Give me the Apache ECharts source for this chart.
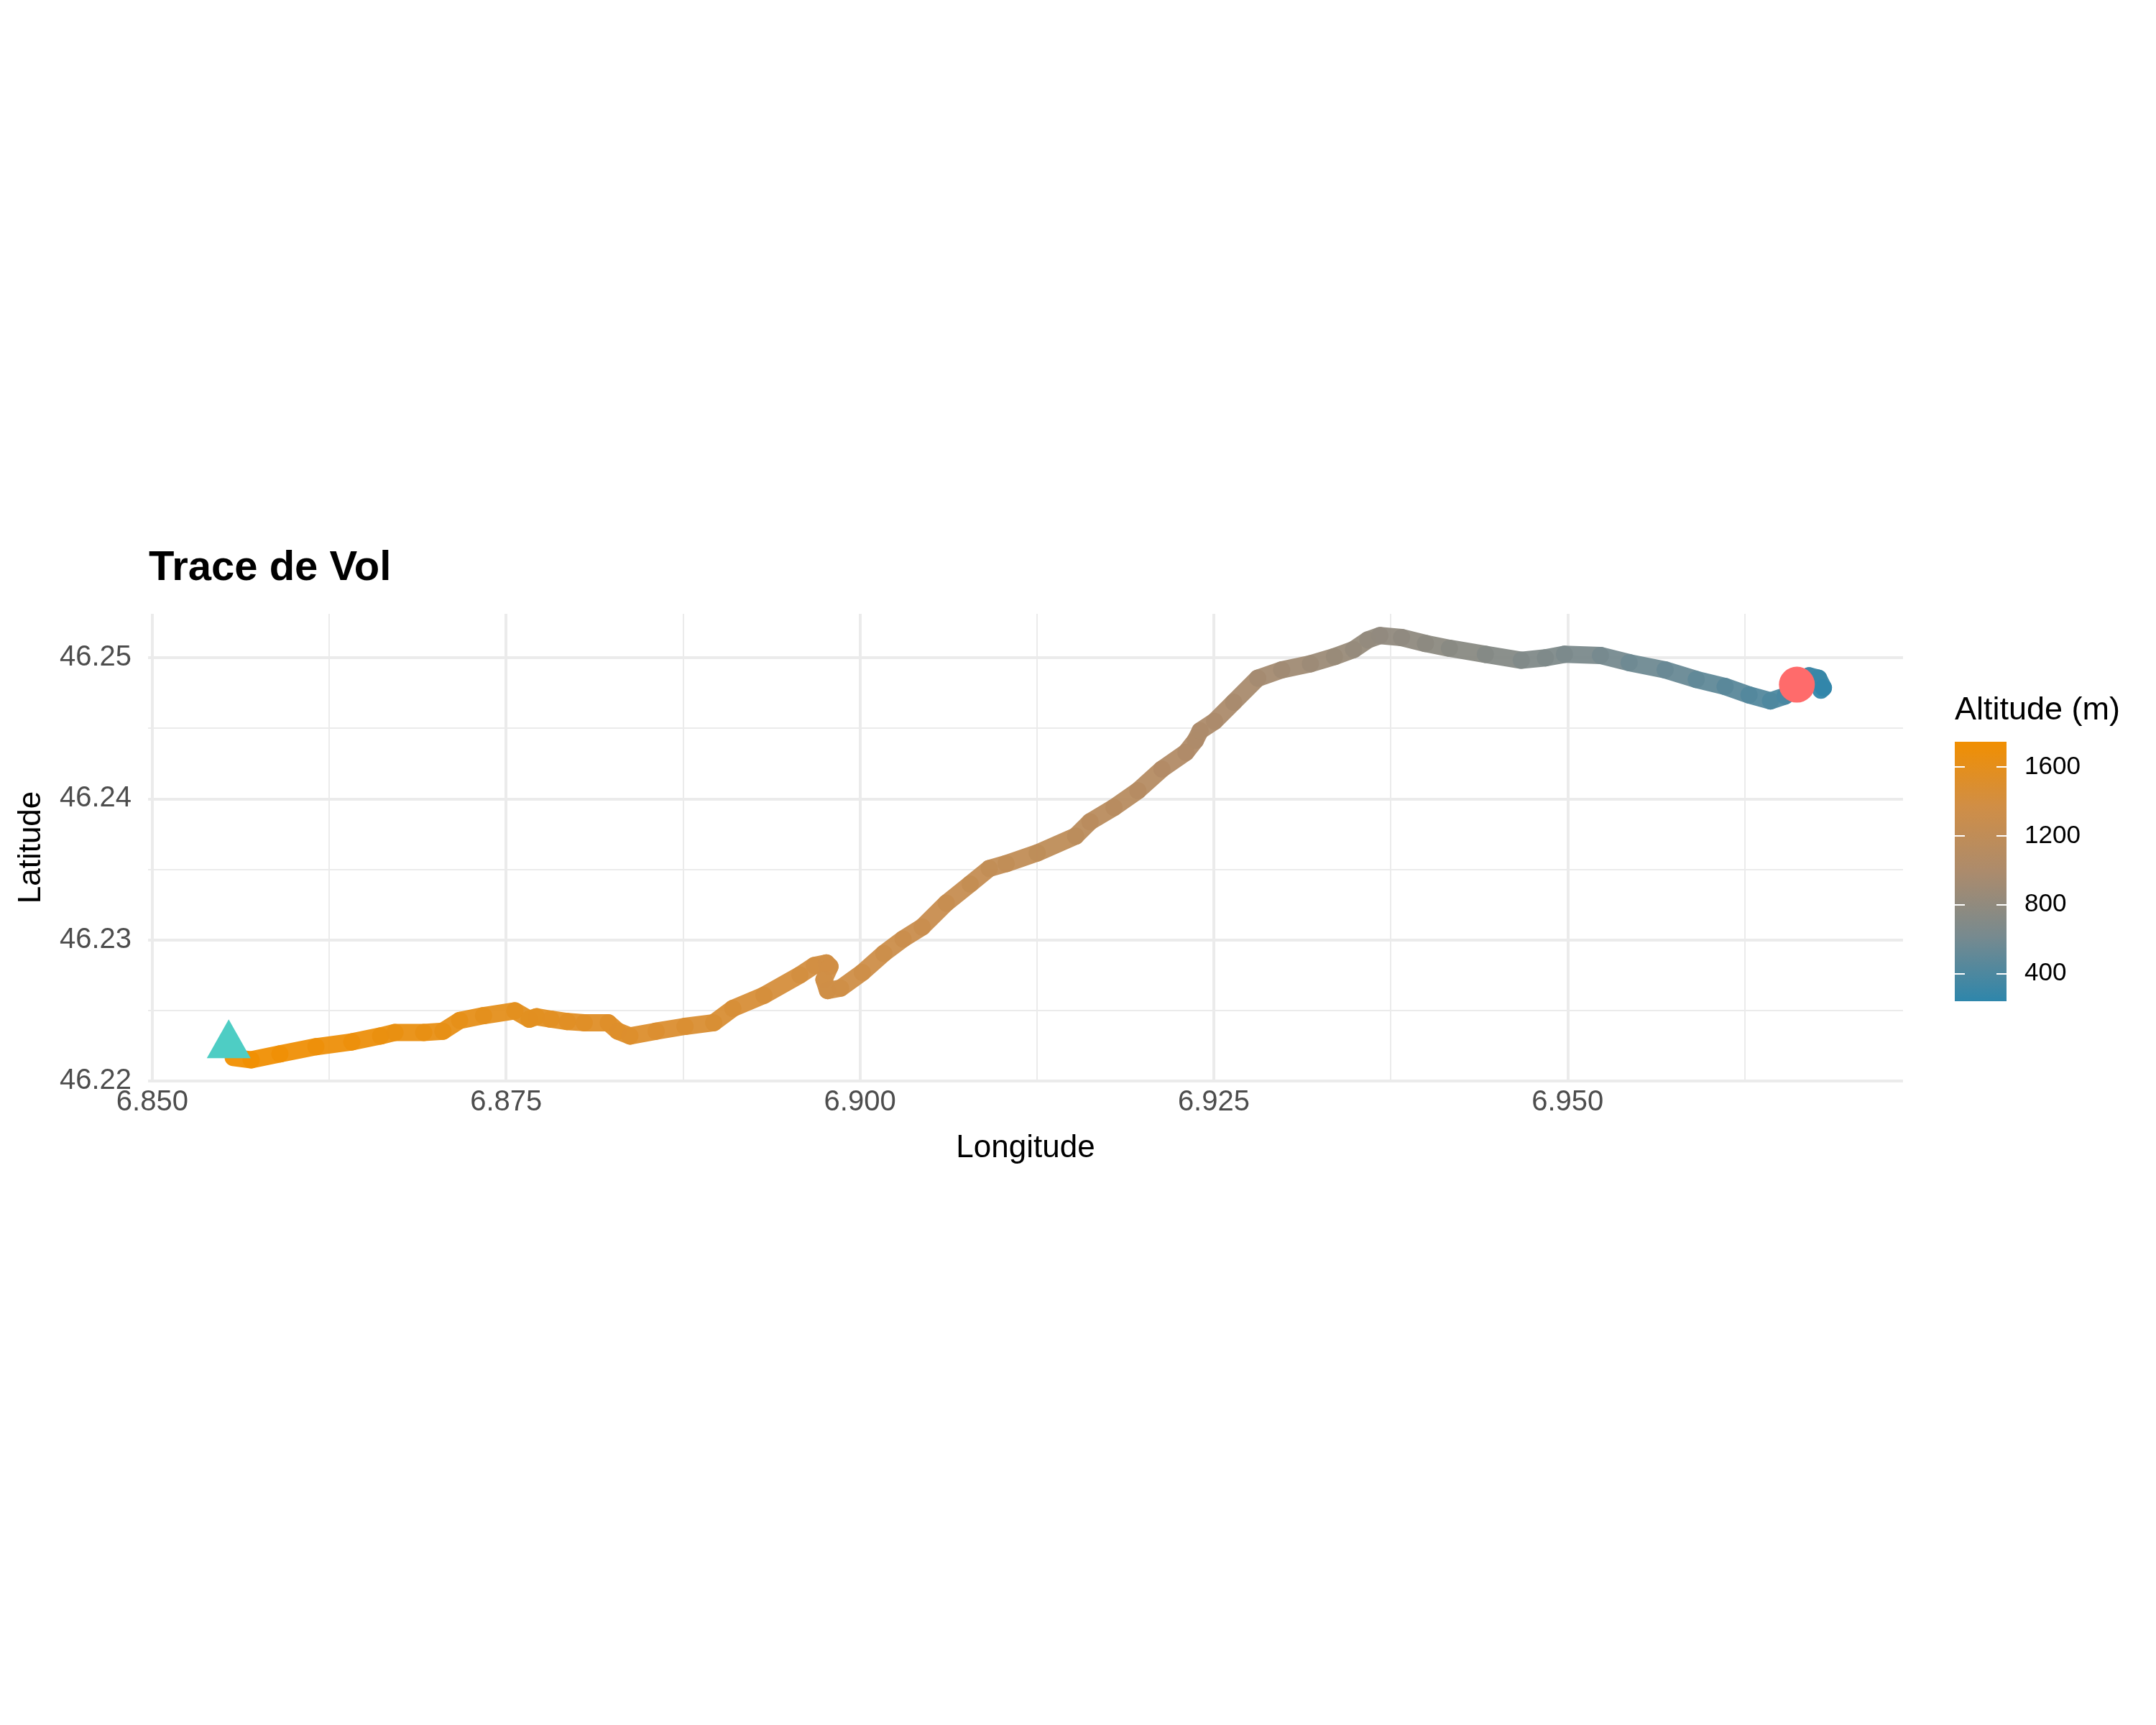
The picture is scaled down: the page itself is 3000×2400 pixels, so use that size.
<!DOCTYPE html>
<html>
<head>
<meta charset="utf-8">
<title>Trace de Vol</title>
<script src="https://cdn.jsdelivr.net/npm/echarts@6/dist/echarts.min.js"></script>
<style>
  html, body { margin: 0; padding: 0; background: #fff; }
  #chart { width: 3000px; height: 2400px; }
</style>
</head>
<body>
<div id="chart"></div>
<script>
  // trace GPS : longitude, latitude, altitude (m)
  const lon = [
    6.85572, 6.85699, 6.85902, 6.86156, 6.86410, 6.86613, 6.86715, 6.86918, 6.87054, 6.87172,
    6.87341, 6.87562, 6.87663, 6.87714, 6.87816, 6.87934, 6.88052, 6.88222, 6.88290, 6.88375,
    6.88560, 6.88764, 6.88967, 6.89102, 6.89322, 6.89576, 6.89678, 6.89763, 6.89788, 6.89746,
    6.89771, 6.89864, 6.90017, 6.90169, 6.90305, 6.90440, 6.90610, 6.90779, 6.90914, 6.91033,
    6.91253, 6.91524, 6.91626, 6.91795, 6.91964, 6.92134, 6.92303, 6.92370, 6.92404, 6.92506,
    6.92641, 6.92811, 6.92980, 6.93183, 6.93353, 6.93488, 6.93589, 6.93674, 6.93827, 6.93996,
    6.94165, 6.94419, 6.94673, 6.94843, 6.94978, 6.95232, 6.95435, 6.95689, 6.95909, 6.96113,
    6.96282, 6.96434, 6.96536, 6.96620, 6.96705, 6.96773, 6.96807, 6.96790
  ];
  const lat = [
    46.22166, 46.22150, 46.22192, 46.22243, 46.22277, 46.22319, 46.22344, 46.22344, 46.22353, 46.22429,
    46.22463, 46.22497, 46.22438, 46.22455, 46.22438, 46.22421, 46.22413, 46.22413, 46.22353, 46.22319,
    46.22353, 46.22387, 46.22413, 46.22514, 46.22607, 46.22751, 46.22819, 46.22836, 46.22811, 46.22718,
    46.22641, 46.22658, 46.22769, 46.22904, 46.23006, 46.23091, 46.23260, 46.23396, 46.23506, 46.23540,
    46.23616, 46.23735, 46.23837, 46.23938, 46.24057, 46.24210, 46.24328, 46.24413, 46.24481, 46.24549,
    46.24684, 46.24854, 46.24913, 46.24956, 46.25007, 46.25057, 46.25125, 46.25156, 46.25142, 46.25100,
    46.25066, 46.25023, 46.24981, 46.24998, 46.25023, 46.25015, 46.24964, 46.24913, 46.24845, 46.24795,
    46.24735, 46.24693, 46.24727, 46.24786, 46.24871, 46.24854, 46.24786, 46.24769
  ];
  const alt = [
    1746, 1735, 1720, 1700, 1685, 1670, 1660, 1645, 1630, 1615,
    1600, 1585, 1575, 1570, 1562, 1550, 1540, 1525, 1515, 1505,
    1490, 1475, 1460, 1445, 1425, 1400, 1390, 1382, 1376, 1370,
    1364, 1358, 1340, 1320, 1300, 1285, 1262, 1240, 1222, 1210,
    1185, 1150, 1130, 1110, 1085, 1055, 1030, 1018, 1008, 995,
    970, 935, 910, 880, 855, 835, 815, 800, 785, 765,
    745, 715, 685, 665, 645, 610, 575, 540, 500, 465,
    430, 400, 380, 355, 320, 290, 260, 240
  ];

  // décollage et atterrissage
  const takeoff = [6.85540, 46.22253];
  const landing = [6.96620, 46.24808];

  const lonTicks = [6.850, 6.875, 6.900, 6.925, 6.950];
  const lonMinor = [6.8625, 6.8875, 6.9125, 6.9375, 6.9625];
  const latTicks = [46.22, 46.23, 46.24, 46.25];
  const latMinor = [46.225, 46.235, 46.245];
  const altTicks = [400, 800, 1200, 1600];

  const FONT = '"Liberation Sans", Arial, Helvetica, sans-serif';
  const altColors = ['#2E86AB', '#778A8F', '#AC8B6C', '#D08E46', '#F18F01']; // bas -> haut
  const gridColor = '#EBEBEB';

  const altMin = Math.min(...alt);
  const altMax = Math.max(...alt);

  const chart = echarts.init(document.getElementById('chart'));

  const trackData = lon.map((x, i) => [x, lat[i], alt[i]]);

  const option = {
    backgroundColor: '#fff',
    animation: false,
    title: [
      {
        text: 'Trace de Vol',
        left: 207,
        top: 762,
        padding: 0,
        textStyle: { fontFamily: FONT, fontSize: 58, fontWeight: 'bold', color: '#000' },
      },
      {
        text: 'Altitude (m)',
        left: 2720,
        top: 966,
        padding: 0,
        textStyle: { fontFamily: FONT, fontSize: 45, fontWeight: 'normal', color: '#000' },
      },
    ],
    grid: [
      { left: 206, top: 854, width: 2442, height: 650, containLabel: false },
      { left: 2720, top: 1032, width: 72, height: 361, containLabel: false },
    ],
    xAxis: [
      {
        type: 'value',
        gridIndex: 0,
        min: 6.8497,
        max: 6.9737,
        name: 'Longitude',
        nameLocation: 'middle',
        nameGap: 72,
        nameTextStyle: { fontFamily: FONT, fontSize: 44, color: '#000' },
        axisLine: { show: false },
        axisTick: { show: false, customValues: lonTicks },
        axisLabel: {
          customValues: lonTicks,
          formatter: (v) => v.toFixed(3),
          fontFamily: FONT,
          fontSize: 40,
          color: '#4D4D4D',
          margin: 10,
        },
        splitLine: { show: true, lineStyle: { color: gridColor, width: 4 } },
      },
      {
        // grille mineure
        type: 'value',
        gridIndex: 0,
        position: 'top',
        min: 6.8497,
        max: 6.9737,
        axisLine: { show: false },
        axisTick: { show: false, customValues: lonMinor },
        axisLabel: { show: false },
        splitLine: { show: true, lineStyle: { color: gridColor, width: 2 } },
      },
      {
        type: 'value',
        gridIndex: 1,
        min: 0,
        max: 1,
        show: false,
      },
    ],
    yAxis: [
      {
        type: 'value',
        gridIndex: 0,
        min: 46.22,
        max: 46.2531,
        name: 'Latitude',
        nameLocation: 'middle',
        nameGap: 140,
        nameTextStyle: { fontFamily: FONT, fontSize: 44, color: '#000' },
        axisLine: { show: false },
        axisTick: { show: false, customValues: latTicks },
        axisLabel: {
          customValues: latTicks,
          formatter: (v) => v.toFixed(2),
          fontFamily: FONT,
          fontSize: 40,
          color: '#4D4D4D',
          margin: 23,
        },
        splitLine: { show: true, lineStyle: { color: gridColor, width: 4 } },
      },
      {
        type: 'value',
        gridIndex: 0,
        position: 'right',
        min: 46.22,
        max: 46.2531,
        axisLine: { show: false },
        axisTick: { show: false, customValues: latMinor },
        axisLabel: { show: false },
        splitLine: { show: true, lineStyle: { color: gridColor, width: 2 } },
      },
      {
        // barre de couleur : repères à gauche
        type: 'value',
        gridIndex: 1,
        position: 'left',
        min: altMin,
        max: altMax,
        z: 10,
        axisLine: { show: false },
        axisTick: { show: true, inside: true, length: 14, customValues: altTicks, lineStyle: { color: '#fff', width: 2 } },
        axisLabel: { show: false },
        splitLine: { show: false },
      },
      {
        // barre de couleur : repères à droite + étiquettes
        type: 'value',
        gridIndex: 1,
        position: 'right',
        min: altMin,
        max: altMax,
        z: 10,
        axisLine: { show: false },
        axisTick: { show: true, inside: true, length: 14, customValues: altTicks, lineStyle: { color: '#fff', width: 2 } },
        axisLabel: {
          customValues: altTicks,
          formatter: (v) => String(v),
          fontFamily: FONT,
          fontSize: 35,
          color: '#000',
          margin: 25,
        },
        splitLine: { show: false },
      },
    ],
    visualMap: {
      type: 'continuous',
      show: false,
      seriesIndex: 0,
      dimension: 2,
      min: altMin,
      max: altMax,
      inRange: { color: altColors },
    },
    series: [
      {
        name: 'trace',
        type: 'custom',
        xAxisIndex: 0,
        yAxisIndex: 0,
        data: trackData,
        encode: { x: 0, y: 1 },
        z: 3,
        renderItem: function (params, api) {
          const i = params.dataIndex;
          if (i >= lon.length - 1) return null;
          const p0 = api.coord([api.value(0), api.value(1)]);
          const p1 = api.coord([lon[i + 1], lat[i + 1]]);
          return {
            type: 'line',
            shape: { x1: p0[0], y1: p0[1], x2: p1[0], y2: p1[1] },
            style: { stroke: api.visual('color'), lineWidth: 24, lineCap: 'round', opacity: 0.95 },
          };
        },
      },
      {
        name: 'décollage',
        type: 'scatter',
        xAxisIndex: 0,
        yAxisIndex: 0,
        data: [takeoff],
        symbol: 'triangle',
        symbolSize: [61, 54],
        symbolOffset: [0, -9],
        itemStyle: { color: '#4ECDC4', opacity: 1 },
        z: 5,
      },
      {
        name: 'atterrissage',
        type: 'scatter',
        xAxisIndex: 0,
        yAxisIndex: 0,
        data: [landing],
        symbol: 'circle',
        symbolSize: 50,
        itemStyle: { color: '#FF6B6B', opacity: 1 },
        z: 5,
      },
      {
        name: 'barre',
        type: 'custom',
        xAxisIndex: 2,
        yAxisIndex: 2,
        data: [[0, altMin, altMax]],
        z: 2,
        renderItem: function (params, api) {
          const top = api.coord([0, altMax]);
          const bottom = api.coord([1, altMin]);
          return {
            type: 'rect',
            shape: { x: top[0], y: top[1], width: bottom[0] - top[0], height: bottom[1] - top[1] },
            style: {
              fill: {
                type: 'linear',
                x: 0, y: 1, x2: 0, y2: 0,
                colorStops: altColors.map((c, k) => ({ offset: k / (altColors.length - 1), color: c })),
              },
            },
          };
        },
      },
    ],
  };

  chart.setOption(option);
</script>
</body>
</html>
